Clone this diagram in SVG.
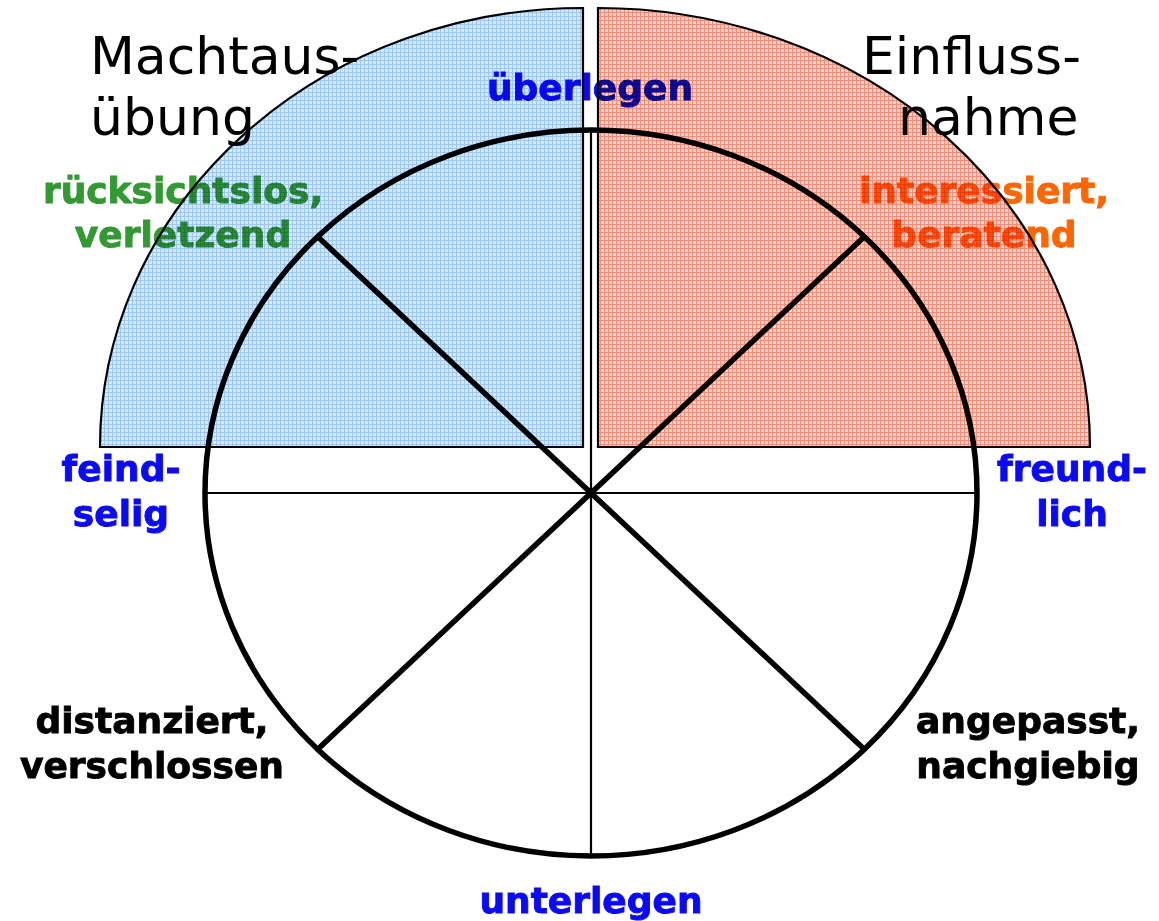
<svg xmlns="http://www.w3.org/2000/svg" width="1159" height="921" viewBox="0 0 1159 921">
  <style>
    .lbl { font-family: "DejaVu Sans", Verdana, sans-serif; font-weight: bold; font-size: 36px; text-anchor: middle; stroke-width: 0.9px; }
    .head { font-family: "DejaVu Sans", Verdana, sans-serif; font-size: 52px; fill: #000; }
    .blue { fill: #0a0af5; stroke: #0a0af5; }
    .green { fill: #339933; stroke: #339933; }
    .orange { fill: #ff6600; stroke: #ff6600; }
    .black { fill: #000; stroke: #000; }
    .thick { stroke: #000; stroke-width: 5.5; fill: none; }
    .thin { stroke: #000; stroke-width: 2.2; fill: none; }
    .quarter { mix-blend-mode: multiply; stroke: #000; stroke-width: 2.2; }
  </style>
  <defs>
    <pattern id="gridBlue" width="4" height="4" patternUnits="userSpaceOnUse">
      <rect width="4" height="4" fill="#d6e9fc"/>
      <path d="M0 0.5 H4 M0.5 0 V4" stroke="#9cc9f3" stroke-width="1"/>
    </pattern>
    <pattern id="gridRed" width="4" height="4" patternUnits="userSpaceOnUse">
      <rect width="4" height="4" fill="#fad0c4"/>
      <path d="M0 0.5 H4 M0.5 0 V4" stroke="#f08c78" stroke-width="1"/>
    </pattern>
  </defs>
  <rect width="1159" height="921" fill="#fff"/>

  <g id="connectors">
    <line class="thin" x1="207" y1="493" x2="975" y2="493"/>
    <line class="thin" x1="591" y1="131" x2="591" y2="856"/>
    <line class="thick" x1="591" y1="493" x2="318" y2="237"/>
    <line class="thick" x1="591" y1="493" x2="864" y2="237"/>
    <line class="thick" x1="591" y1="493" x2="318" y2="749"/>
    <line class="thick" x1="591" y1="493" x2="864" y2="749"/>
  </g>

  <g id="circle">
    <ellipse class="thick" cx="591" cy="493" rx="386" ry="363"/>
  </g>

  <g id="labels">
    <text class="lbl blue" x="590" y="100">überlegen</text>
    <text class="lbl green" x="183" y="203">rücksichtslos,</text>
    <text class="lbl green" x="183" y="247">verletzend</text>
    <text class="lbl orange" x="984" y="203">interessiert,</text>
    <text class="lbl orange" x="984" y="247">beratend</text>
    <text class="lbl blue" x="121" y="481">feind-</text>
    <text class="lbl blue" x="121" y="526">selig</text>
    <text class="lbl blue" x="1072" y="481">freund-</text>
    <text class="lbl blue" x="1072" y="526">lich</text>
    <text class="lbl black" x="152" y="733">distanziert,</text>
    <text class="lbl black" x="152" y="778">verschlossen</text>
    <text class="lbl black" x="1028" y="733">angepasst,</text>
    <text class="lbl black" x="1028" y="778">nachgiebig</text>
    <text class="lbl blue" x="591" y="913">unterlegen</text>
  </g>

  <g id="machtausuebung">
    <path class="quarter" fill="url(#gridBlue)" d="M583 447 L100 447 A483 439 0 0 1 583 8 Z"/>
    <text class="head" x="90" y="74">Machtaus-</text>
    <text class="head" x="90" y="135">übung</text>
  </g>

  <g id="einflussnahme">
    <path class="quarter" fill="url(#gridRed)" d="M598 447 L1090 447 A492 439 0 0 0 598 8 Z"/>
    <text class="head" x="862" y="74">Einfluss-</text>
    <text class="head" x="898" y="135">nahme</text>
  </g>
</svg>
